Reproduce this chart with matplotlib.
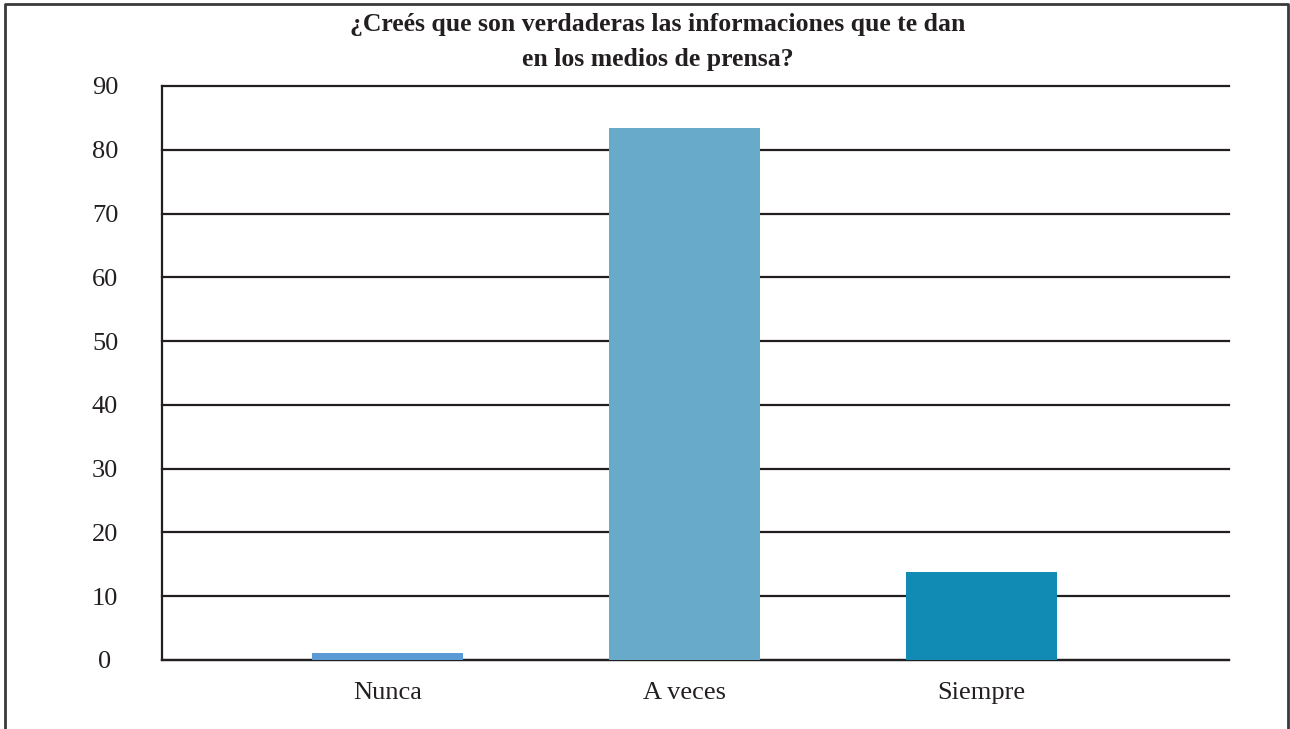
import matplotlib
matplotlib.use('Agg')
import matplotlib.pyplot as plt
from matplotlib.lines import Line2D

categorias = ['Nunca', 'A veces', 'Siempre']
valores = [1.1, 83.4, 13.8]
colores = ['#5b9bd5', '#67aac9', '#118bb3']
y_ticks = [0, 10, 20, 30, 40, 50, 60, 70, 80, 90]
titulo = '¿Creés que son verdaderas las informaciones que te dan\nen los medios de prensa?'

plt.rcParams['font.family'] = ['Liberation Serif', 'DejaVu Serif']

W, H = 1290, 729
fig = plt.figure(figsize=(W / 100, H / 100), dpi=100)
ax = fig.add_axes([162 / W, 1 - 660 / H, (1229 - 162) / W, (660 - 86) / H])

dark = '#231f20'
x = list(range(len(categorias)))
ax.set_axisbelow(True)
ax.yaxis.grid(True, color=dark, linewidth=1.6)
ax.bar(x, valores, width=0.508, color=colores, zorder=3)

ax.set_ylim(0, 90)
ax.set_xlim(-0.759, 2.833)
ax.set_yticks(y_ticks)
ax.set_xticks(x)
ax.set_xticklabels(categorias)
ax.tick_params(axis='both', length=0, labelsize=19, colors=dark)
ax.tick_params(axis='y', pad=41)
ax.tick_params(axis='x', pad=16)
for lab in ax.get_yticklabels():
    lab.set_horizontalalignment('center')
for gl in ax.get_ygridlines():
    gl.set_clip_on(False)
for s in ['top', 'right']:
    ax.spines[s].set_visible(False)
for s in ['left', 'bottom']:
    ax.spines[s].set_color(dark)
    ax.spines[s].set_linewidth(1.6)

fig.text(658 / W, 1 - 13 / H, titulo, ha='center', va='top', fontsize=18.5,
         fontweight='bold', color=dark, linespacing=1.65)

# marco exterior
fx = [5 / W, 5 / W, 1288 / W, 1288 / W]
fy = [0, 1 - 4 / H, 1 - 4 / H, 0]
fig.add_artist(Line2D(fx, fy, transform=fig.transFigure, color='#3a3a3a', linewidth=2))

fig.savefig('out.png', dpi=100)
